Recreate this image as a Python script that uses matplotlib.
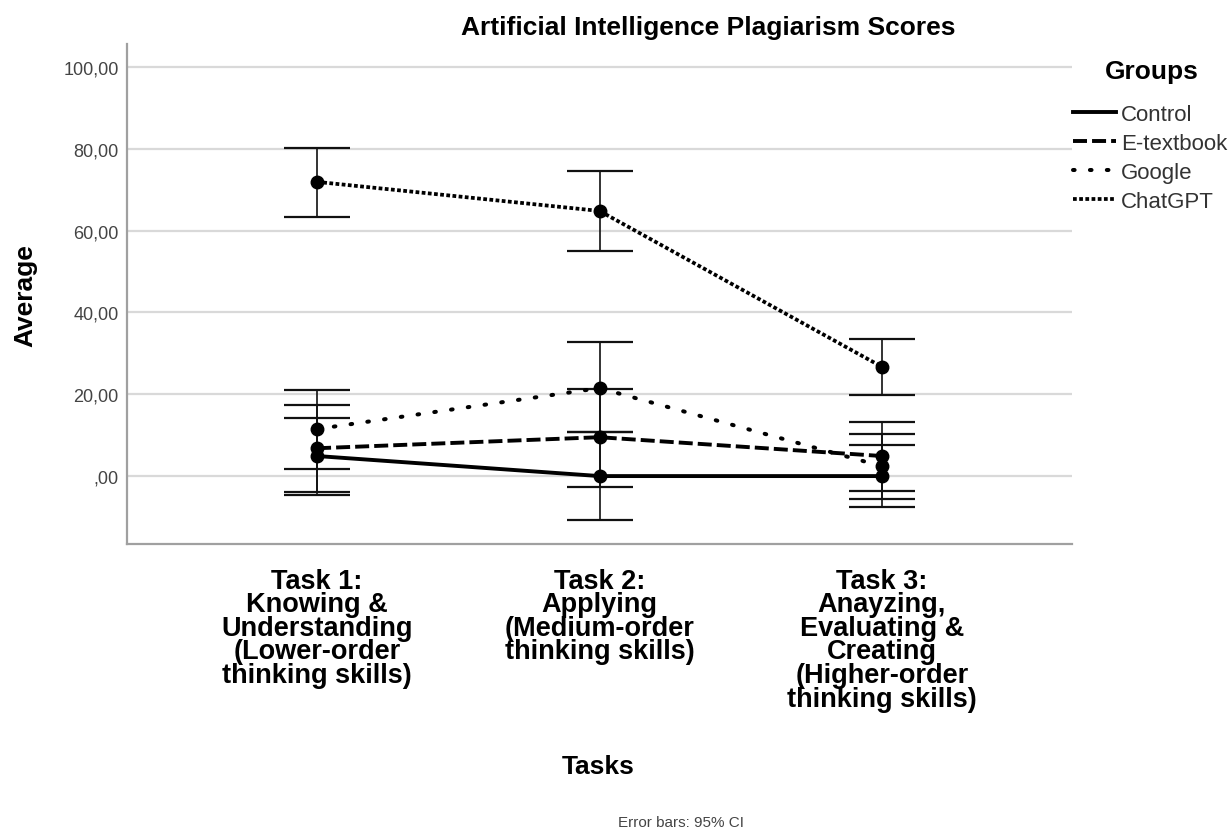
import matplotlib.pyplot as plt
import numpy as np

plt.rcParams['font.family'] = ['Liberation Sans', 'DejaVu Sans']

tasks = ['Task 1:\nKnowing &\nUnderstanding\n(Lower-order\nthinking skills)',
         'Task 2:\nApplying\n(Medium-order\nthinking skills)',
         'Task 3:\nAnayzing,\nEvaluating &\nCreating\n(Higher-order\nthinking skills)']
groups = ['Control', 'E-textbook', 'Google', 'ChatGPT']

# means and 95% CI bounds
control_mean = [4.9, 0.0, 0.0]
control_lo = [-4.6, -10.8, -7.6]
control_hi = [14.2, 10.8, 7.6]

etext_mean = [6.8, 9.5, 4.9]
etext_lo = [-3.9, -2.7, -3.7]
etext_hi = [17.4, 21.3, 13.2]

google_mean = [11.5, 21.5, 2.4]
google_lo = [1.7, 10.8, -5.6]
google_hi = [21.0, 32.8, 10.3]

chatgpt_mean = [71.9, 64.8, 26.7]
chatgpt_lo = [63.3, 55.0, 19.8]
chatgpt_hi = [80.2, 74.6, 33.5]

yticks = [0, 20, 40, 60, 80, 100]
ytick_labels = [',00', '20,00', '40,00', '60,00', '80,00', '100,00']

fig = plt.figure(figsize=(12.3, 8.28), dpi=100)
ax = fig.add_axes([127/1230, 1-545/828, (1072-127)/1230, 500/828])

x = np.arange(len(tasks))
styles = [
    dict(linestyle='-', linewidth=2.8),
    dict(dashes=(3.6, 1.3), linewidth=2.8),
    dict(dashes=(0.4, 3.8), linewidth=2.9, dash_capstyle='round'),
    dict(dashes=(1.0, 0.65), linewidth=2.7),
]
data = [(control_mean, control_lo, control_hi),
        (etext_mean, etext_lo, etext_hi),
        (google_mean, google_lo, google_hi),
        (chatgpt_mean, chatgpt_lo, chatgpt_hi)]

for name, (m, lo, hi), st in zip(groups, data, styles):
    m = np.array(m); lo = np.array(lo); hi = np.array(hi)
    ax.errorbar(x, m, yerr=[m - lo, hi - m], fmt='none', ecolor='#111111',
                elinewidth=1.2, capsize=23.5, capthick=1.6, zorder=3)
    ax.plot(x, m, color='black', label=name, zorder=4, **st)
    ax.plot(x, m, 'o', color='black', markersize=9, zorder=5)

ax.set_xlim(-0.673, 2.673)
ax.set_ylim(-16.6, 105.6)
ax.set_yticks(yticks)
ax.set_yticklabels(ytick_labels, fontsize=13, color='#444444')
ax.set_xticks(x)
ax.set_xticklabels(tasks, fontsize=19.5, fontweight='bold', linespacing=0.88)
ax.tick_params(axis='both', length=0)
ax.tick_params(axis='x', pad=17)
ax.tick_params(axis='y', pad=6)
ax.grid(axis='y', color='#d9d9d9', linewidth=1.6)
ax.set_axisbelow(True)
for s in ['top', 'right']:
    ax.spines[s].set_visible(False)
for s in ['left', 'bottom']:
    ax.spines[s].set_color('#a0a0a0')
    ax.spines[s].set_linewidth(1.6)

fig.text(708/1230, 1-28/828, 'Artificial Intelligence Plagiarism Scores',
         ha='center', va='center', fontsize=19, fontweight='bold', color='black')
fig.text(25/1230, 1-296/828, 'Average', rotation=90, ha='center', va='center',
         fontsize=19, fontweight='bold', color='black')
fig.text(598/1230, 1-767/828, 'Tasks', ha='center', va='center',
         fontsize=19, fontweight='bold', color='black')
fig.text(681/1230, 1-823/828, 'Error bars: 95% CI', ha='center', va='center',
         fontsize=11, color='#444444')

# legend title drawn separately so the gap to the entries matches
fig.text(1152/1230, 1-72/828, 'Groups', ha='center', va='center',
         fontsize=19, fontweight='bold', color='black')
leg = fig.legend(*ax.get_legend_handles_labels(), loc='upper left',
                 bbox_to_anchor=(1073/1230, 1-105/828), frameon=False,
                 fontsize=16, handlelength=1.95,
                 handletextpad=0.2, labelspacing=0.36, borderpad=0, borderaxespad=0)
for t in leg.get_texts():
    t.set_color('#333333')

fig.savefig('out.png', dpi=100)
